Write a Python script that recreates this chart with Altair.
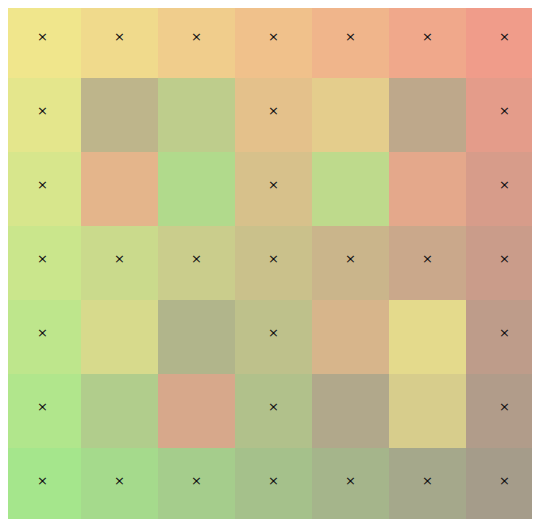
import altair as alt
import pandas as pd

# grid rows (top to bottom), columns (left to right)
rows = list(range(7))
cols = list(range(7))

# cell colours, one list per row
colors = [
    ["#f0e68c", "#f0da8c", "#f0cd8c", "#f0c18b", "#f0b58b", "#f0a88b", "#f09c8a"],
    ["#e4e68c", "#beb58b", "#becd8c", "#e4c18b", "#e4cd8c", "#bea88b", "#e49c8a"],
    ["#d7e68c", "#e4b58b", "#b1da8c", "#d7c18b", "#beda8c", "#e4a88b", "#d79c8a"],
    ["#cae68c", "#cada8c", "#cacd8c", "#cac18b", "#cab58b", "#caa88b", "#ca9c8a"],
    ["#bee68c", "#d7da8c", "#b1b58b", "#bec18b", "#d7b58b", "#e4da8c", "#be9c8a"],
    ["#b1e68c", "#b1cd8c", "#d7a88b", "#b1c18b", "#b1a88b", "#d7cd8c", "#b19c8a"],
    ["#a5e68c", "#a5da8c", "#a5cd8c", "#a5c18b", "#a5b58b", "#a5a88b", "#a59c8a"],
]

# 1 = cell carries a "×" marker
fixed = [
    [1, 1, 1, 1, 1, 1, 1],
    [1, 0, 0, 1, 0, 0, 1],
    [1, 0, 0, 1, 0, 0, 1],
    [1, 1, 1, 1, 1, 1, 1],
    [1, 0, 0, 1, 0, 0, 1],
    [1, 0, 0, 1, 0, 0, 1],
    [1, 1, 1, 1, 1, 1, 1],
]

recs = []
for r in rows:
    for c in cols:
        recs.append({
            "row": r, "row2": r + 1, "rowc": r + 0.5,
            "col": c, "col2": c + 1, "colc": c + 0.5,
            "color": colors[r][c],
            "mark": "×" if fixed[r][c] else "",
        })
df = pd.DataFrame(recs)

xs = alt.Scale(domain=[0.052, 6.857], nice=False, zero=False)
ys = alt.Scale(domain=[0.054, 6.959], nice=False, zero=False, reverse=True)

cells = alt.Chart(df).mark_rect(clip=True, strokeWidth=0).encode(
    x=alt.X("col:Q", scale=xs, axis=None),
    x2="col2:Q",
    y=alt.Y("row:Q", scale=ys, axis=None),
    y2="row2:Q",
    color=alt.Color("color:N", scale=None, legend=None),
)

marks = alt.Chart(df).mark_text(
    clip=True, fontSize=13, font="DejaVu Sans", color="#111111",
    baseline="middle", dy=-4,
).encode(
    x=alt.X("colc:Q", scale=xs, axis=None),
    y=alt.Y("rowc:Q", scale=ys, axis=None),
    text="mark:N",
)

chart = (cells + marks).properties(
    width=524, height=511, padding=0, autosize=alt.AutoSizeParams(type="none"),
).configure_view(stroke=None)

chart.save("out.html", embed_options={"renderer": "svg", "actions": False})
